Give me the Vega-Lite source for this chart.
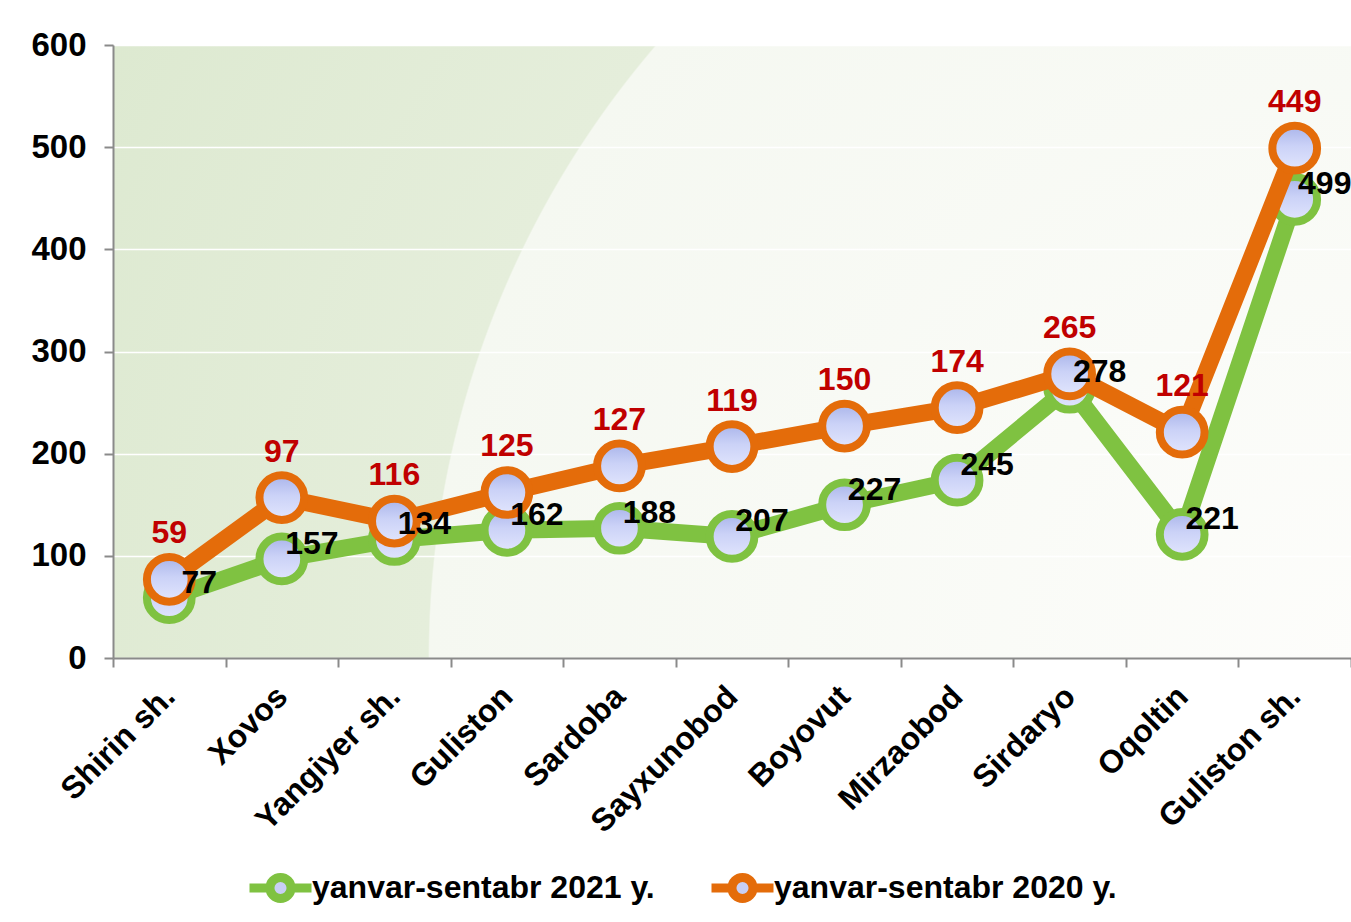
{
  "$schema": "https://vega.github.io/schema/vega-lite/v6.json",
  "width": 1238,
  "height": 613,
  "autosize": {"type": "none"},
  "padding": {"left": 113, "top": 45, "right": 0, "bottom": 264},
  "background": "white",
  "view": {
    "stroke": null,
    "fill": {
      "gradient": "radial",
      "x1": 1.0145, "y1": 0.7476, "r1": 0,
      "x2": 1.0145, "y2": 0.7476, "r2": 1.216,
      "stops": [
        {"offset": 0, "color": "#fdfdfb"},
        {"offset": 0.624, "color": "#f5f8f1"},
        {"offset": 0.625, "color": "#e5eedb"},
        {"offset": 1, "color": "#dbe8ce"}
      ]
    }
  },
  "data": {
    "values": [
      {"region": "Shirin sh.", "y2021": 59, "y2020": 77},
      {"region": "Xovos", "y2021": 97, "y2020": 157},
      {"region": "Yangiyer sh.", "y2021": 116, "y2020": 134},
      {"region": "Guliston", "y2021": 125, "y2020": 162},
      {"region": "Sardoba", "y2021": 127, "y2020": 188},
      {"region": "Sayxunobod", "y2021": 119, "y2020": 207},
      {"region": "Boyovut", "y2021": 150, "y2020": 227},
      {"region": "Mirzaobod", "y2021": 174, "y2020": 245},
      {"region": "Sirdaryo", "y2021": 265, "y2020": 278},
      {"region": "Oqoltin", "y2021": 121, "y2020": 221},
      {"region": "Guliston sh.", "y2021": 449, "y2020": 499}
    ]
  },
  "encoding": {
    "x": {"field": "region", "type": "nominal", "sort": null, "title": null, "bandPosition": 0.5,
          "scale": {"type": "band", "paddingInner": 0, "paddingOuter": 0}}
  },
  "layer": [
    {
      "mark": {"type": "line", "strokeWidth": 17, "strokeJoin": "round", "strokeCap": "round"},
      "encoding": {
        "y": {"field": "y2021", "type": "quantitative", "title": null, "scale": {"domain": [0, 600]}},
        "color": {
          "datum": "yanvar-sentabr 2021 y.",
          "scale": {"domain": ["yanvar-sentabr 2021 y.", "yanvar-sentabr 2020 y."], "range": ["#7fc241", "#e46c0a"]},
          "legend": {
            "orient": "none", "legendX": 132, "legendY": 807, "direction": "horizontal", "title": null,
            "symbolType": "M-1,0H-0.34M0.34,0H1M-0.34,0A0.34,0.34 0 1,1 0.34,0A0.34,0.34 0 1,1 -0.34,0Z",
            "symbolSize": 3844, "symbolStrokeWidth": 9, "symbolOpacity": 1,
            "labelFont": "Liberation Sans", "labelFontSize": 32, "labelFontWeight": "bold", "labelColor": "#000000",
            "labelOffset": -4, "columnPadding": 38, "labelLimit": 0,
            "encode": {"symbols": {"update": {"fill": {"value": "#c8cff5"}, "fillOpacity": {"value": 1}}}}
          }
        }
      }
    },
    {
      "mark": {"type": "point", "shape": "circle", "size": 2000, "strokeWidth": 8, "stroke": "#7fc241", "opacity": 1, "fillOpacity": 1,
        "fill": {"gradient": "linear", "x1": 0, "y1": 0, "x2": 0, "y2": 1,
          "stops": [{"offset": 0, "color": "#a9b4ea"}, {"offset": 0.45, "color": "#cbd2f7"}, {"offset": 1, "color": "#e2e6fd"}]}},
      "encoding": {"y": {"field": "y2021", "type": "quantitative", "title": null}}
    },
    {
      "mark": {"type": "line", "strokeWidth": 17, "strokeJoin": "round", "strokeCap": "round"},
      "encoding": {
        "y": {"field": "y2020", "type": "quantitative", "title": null},
        "color": {"datum": "yanvar-sentabr 2020 y."}
      }
    },
    {
      "mark": {"type": "point", "shape": "circle", "size": 2000, "strokeWidth": 8, "stroke": "#e46c0a", "opacity": 1, "fillOpacity": 1,
        "fill": {"gradient": "linear", "x1": 0, "y1": 0, "x2": 0, "y2": 1,
          "stops": [{"offset": 0, "color": "#a9b4ea"}, {"offset": 0.45, "color": "#cbd2f7"}, {"offset": 1, "color": "#e2e6fd"}]}},
      "encoding": {"y": {"field": "y2020", "type": "quantitative", "title": null}}
    },
    {
      "mark": {"type": "text", "font": "Liberation Sans", "fontSize": 32, "fontWeight": "bold", "color": "#c00000", "dy": -46, "baseline": "middle", "align": "center"},
      "encoding": {
        "y": {"field": "y2020", "type": "quantitative", "title": null},
        "text": {"field": "y2021", "type": "quantitative"}
      }
    },
    {
      "mark": {"type": "text", "font": "Liberation Sans", "fontSize": 32, "fontWeight": "bold", "color": "#000000", "dx": 30, "dy": -15, "baseline": "middle", "align": "center"},
      "encoding": {
        "y": {"field": "y2021", "type": "quantitative", "title": null},
        "text": {"field": "y2020", "type": "quantitative"}
      }
    }
  ],
  "config": {
    "axisX": {
      "domainColor": "#8a8a8a", "domainWidth": 2, "tickColor": "#8a8a8a", "tickWidth": 2, "tickSize": 9,
      "tickBand": "extent", "labelAngle": -45, "labelAlign": "right", "labelBaseline": "middle",
      "labelFont": "Liberation Sans", "labelFontSize": 32, "labelFontWeight": "bold", "labelColor": "#000000",
      "labelPadding": 24, "grid": false, "labelLimit": 0
    },
    "axisY": {
      "domainColor": "#8a8a8a", "domainWidth": 2, "tickColor": "#8a8a8a", "tickWidth": 2, "tickSize": 9,
      "labelFont": "Liberation Sans", "labelFontSize": 33, "labelFontWeight": "bold", "labelColor": "#000000",
      "labelPadding": 18, "grid": true, "gridColor": "#ffffff", "gridWidth": 1.5, "tickCount": 6
    }
  }
}
